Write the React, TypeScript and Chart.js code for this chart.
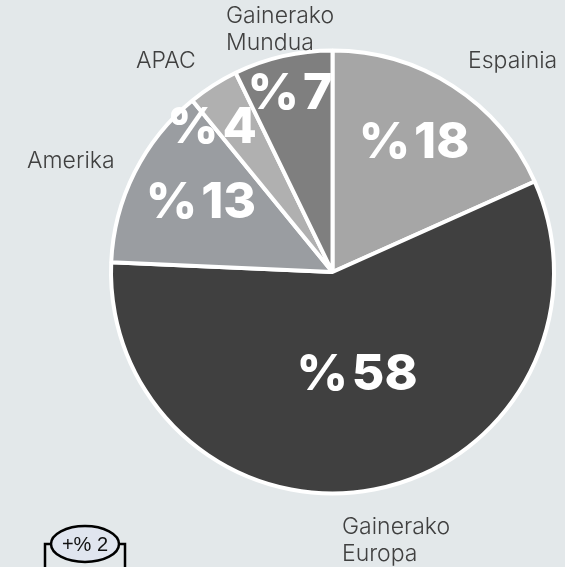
import React, { useEffect, useRef } from "react";
import { Chart, registerables } from "chart.js";

Chart.register(...registerables);

const categories = ["Espainia", "Gainerako Europa", "Amerika", "APAC", "Gainerako Mundua"];
const shares = [18.3, 57.4, 13.4, 3.7, 7.2];
const shareLabels = ["% 18", "% 58", "% 13", "% 4", "% 7"];
const sliceColors = ["#a6a6a6", "#404040", "#9a9da1", "#b0b0b0", "#7f7f7f"];
const outerLines = [["Espainia"], ["Gainerako", "Europa"], ["Amerika"], ["APAC"], ["Gainerako", "Mundua"]];
const badgeText = "+% 2";

const valueAnchors = [
  { x: 414, y: 143 },
  { x: 357, y: 375 },
  { x: 201, y: 203 },
  { x: 212, y: 128 },
  { x: 290, y: 94 },
];
const outerAnchors = [
  { x: 468, y: 61, align: "left" },
  { x: 342, y: 527, align: "left" },
  { x: 27, y: 161, align: "left" },
  { x: 136, y: 61, align: "left" },
  { x: 226, y: 16, align: "left" },
];
const bg = "#e3e8ea";

const labelPlugin = {
  id: "pieText",
  afterDatasetsDraw(chart: any) {
    const { ctx } = chart;
    ctx.save();
    ctx.textBaseline = "middle";
    categories.forEach((_, i) => {
      ctx.textAlign = "center";
      ctx.font = "800 50px Inter, sans-serif";
      ctx.fillStyle = "#ffffff";
      (ctx as any).wordSpacing = "-7px";
      ctx.fillText(shareLabels[i], valueAnchors[i].x, valueAnchors[i].y);
      (ctx as any).wordSpacing = "0px";
      ctx.textAlign = outerAnchors[i].align;
      ctx.font = "300 23px Inter, sans-serif";
      ctx.fillStyle = "#404040";
      outerLines[i].forEach((line, j) => {
        ctx.fillText(line, outerAnchors[i].x, outerAnchors[i].y + j * 27.5);
      });
    });

    ctx.textAlign = "center";
    ctx.strokeStyle = "#000000";
    ctx.lineWidth = 2.5;
    ctx.beginPath();
    ctx.moveTo(45, 567);
    ctx.lineTo(45, 544);
    ctx.lineTo(55, 544);
    ctx.moveTo(114, 544);
    ctx.lineTo(125, 544);
    ctx.lineTo(125, 567);
    ctx.stroke();
    ctx.beginPath();
    ctx.ellipse(85, 544, 34, 18, 0, 0, Math.PI * 2);
    ctx.fillStyle = "#e0e5ef";
    ctx.fill();
    ctx.stroke();
    ctx.fillStyle = "#111111";
    ctx.font = "400 20px 'Liberation Sans', Arial, sans-serif";
    ctx.fillText(badgeText, 85, 545);
    ctx.restore();
  },
};

export default function App() {
  const ref = useRef<HTMLCanvasElement>(null);
  useEffect(() => {
    const chart = new Chart(ref.current!, {
      type: "pie",
      data: {
        labels: categories,
        datasets: [
          {
            data: shares,
            backgroundColor: sliceColors,
            borderColor: "#ffffff",
            borderWidth: 4,
          },
        ],
      },
      options: {
        responsive: false,
        animation: false,
        layout: { padding: { left: 109, right: 9, top: 48, bottom: 71 } },
        plugins: { legend: { display: false }, tooltip: { enabled: false } },
      },
      plugins: [labelPlugin],
    } as any);
    return () => chart.destroy();
  }, []);
  return (
    <div style={{ position: "fixed", left: 0, top: 0, width: 565, height: 567, background: bg, overflow: "hidden" }}>
      <canvas ref={ref} width={565} height={567} style={{ display: "block" }} />
    </div>
  );
}
